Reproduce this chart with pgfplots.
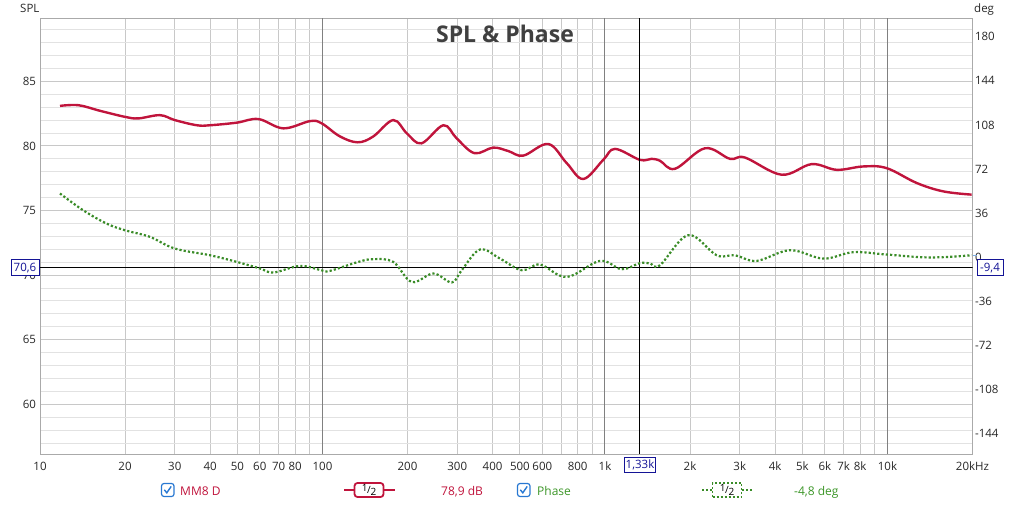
\documentclass[border=0pt]{standalone}
\usepackage{fontspec}
\setmainfont{Open Sans}
\usepackage{pgfplots}
\pgfplotsset{compat=1.18}
\definecolor{spl}{RGB}{192,20,60}
\definecolor{phs}{RGB}{58,140,40}
\definecolor{phstxt}{RGB}{60,150,40}
\definecolor{gridmaj}{RGB}{200,200,200}
\definecolor{gridmin}{RGB}{226,226,226}
\definecolor{griddec}{RGB}{128,128,128}
\definecolor{frame}{RGB}{170,170,170}
\definecolor{navy}{RGB}{20,20,150}
\definecolor{chk}{RGB}{40,120,210}
\definecolor{titlec}{RGB}{64,64,64}
\definecolor{lbl}{RGB}{40,40,40}

\pgfplotstableread{
f v
11.77 83.1
13.7 83.15
16.3 82.72
20.0 82.25
22.3 82.13
26.6 82.38
30 82.0
35.9 81.6
40 81.6
49.7 81.8
59.3 82.08
72.7 81.36
90.3 81.92
99.3 81.75
115 80.75
133 80.28
151 80.72
178 82.0
199 80.97
224 80.2
268 81.6
298 80.6
345 79.44
402 79.87
455 79.6
514 79.25
630 80.15
732 78.67
838 77.44
986 78.92
1085 79.77
1330 78.92
1460 79.0
1566 78.85
1770 78.23
2260 79.82
2770 79.0
3130 79.1
4220 77.77
5390 78.59
6610 78.15
8210 78.41
9930 78.28
12690 77.13
15760 76.48
19860 76.23
}\spltable

\pgfplotstableread{
f v
11.77 52.0
14.2 38.4
17.2 27.5
20 22.0
24.5 16.6
30 7.1
40 1.6
49.7 -3.8
60.1 -9.2
67 -12.5
83.2 -7.1
99 -10.6
106 -11.2
134 -3.8
151 -1.6
178 -3.8
207 -20.2
247 -13.3
287 -20.6
311 -10.6
361 6.3
425 -1.1
507 -10.6
589 -6.0
732 -16.1
960 -3.0
1146 -9.8
1330 -4.8
1443 -5.1
1566 -6.5
1972 18.0
2485 1.6
2885 1.6
3443 -3.0
4520 5.7
5927 -1.1
7570 4.1
9930 2.2
14140 -0.2
19860 1.6
}\phstable

\newcommand{\half}{{\fontsize{10}{10}\selectfont\raisebox{1.5pt}{1}\kern-0.3pt/\kern-0.3pt\raisebox{-1.8pt}{2}}}

\begin{document}
\begin{tikzpicture}[x=1pt,y=1pt]
\path[use as bounding box] (0,0) rectangle (1024,506);
\begin{axis}[
  scale only axis, width=932.5pt, height=435.7pt,
  at={(40pt,52pt)}, anchor=south west,
  xmode=log, log basis x=10, xmin=10, xmax=20000,
  ymin=56.15, ymax=89.88,
  xtick={10,20,30,40,50,60,70,80,90,100,200,300,400,500,600,700,800,900,1000,2000,3000,4000,5000,6000,7000,8000,9000,10000,20000},
  xticklabels={10,20,30,40,50,60,70,80,,100,200,300,400,500,600,,800,,1k,2k,3k,4k,5k,6k,7k,8k,,10k,20kHz},
  ytick={60,65,70,75,80,85},
  yticklabels={60,65,70,75,80,85},
  minor ytick={57,58,...,89},
  grid=both,
  major grid style={draw=gridmaj, line width=1pt},
  minor grid style={draw=gridmin, line width=1pt},
  extra x ticks={100,1000,10000},
  extra x tick labels={,,},
  extra x tick style={grid=major, major grid style={draw=griddec, line width=1pt}},
  major tick length=0pt, minor tick length=0pt,
  tick style={draw=none},
  axis line style={draw=frame, line width=1pt},
  tick label style={font=\fontsize{11.5}{12}\selectfont, text=lbl},
  xticklabel style={anchor=base, yshift=-16.5pt},
  yticklabel style={anchor=east, xshift=-0.5pt},
  clip=true,
]
\addplot[spl, line width=2.4pt, smooth, tension=0.6] table[x=f,y=v] {\spltable};
\draw[black, line width=1pt] (axis cs:1330,56.15) -- (axis cs:1330,89.88);
\draw[black, line width=1pt] (axis cs:10,70.6) -- (axis cs:20000,70.6);
\end{axis}
\begin{axis}[
  scale only axis, width=932.5pt, height=435.7pt,
  at={(40pt,52pt)}, anchor=south west,
  xmode=log, log basis x=10, xmin=10, xmax=20000,
  ymin=-160.6, ymax=195,
  hide x axis,
  axis y line*=right,
  y axis line style={draw=none},
  ytick={-144,-108,-72,-36,0,36,72,108,144,180},
  yticklabels={-144,-108,-72,-36,0,36,72,108,144,180},
  major tick length=0pt, tick style={draw=none},
  tick label style={font=\fontsize{11.5}{12}\selectfont, text=lbl},
  yticklabel style={anchor=west, xshift=-1pt},
]
\addplot[phs, line width=2.2pt, smooth, tension=0.6, dash pattern=on 2.2pt off 2.1pt] table[x=f,y=v] {\phstable};
\end{axis}

% axis unit labels and title
\node[anchor=base west, font=\fontsize{11.5}{12}\selectfont, text=lbl, inner sep=0] at (20,493.7) {SPL};
\node[anchor=base west, font=\fontsize{11.5}{12}\selectfont, text=lbl, inner sep=0] at (974,493.7) {deg};
\node[anchor=base, font=\fontsize{23}{24}\selectfont\bfseries, text=titlec, inner sep=0] at (505,463.3) {SPL \& Phase};

% cursor read-outs
\draw[chk!60, line width=1pt] (972.5,250) -- (977,250);
\node[draw=navy, fill=white, line width=1pt, text=navy, font=\fontsize{11.5}{12}\selectfont, inner sep=0, minimum width=30.6pt, minimum height=15.4pt] at (640,41) {1,33k};
\node[draw=navy, fill=white, line width=1pt, text=navy, font=\fontsize{11.5}{12}\selectfont, inner sep=0, minimum width=28pt, minimum height=16pt] at (25,238) {70,6};
\node[draw=navy, fill=white, line width=1pt, text=navy, font=\fontsize{11.5}{12}\selectfont, inner sep=0, minimum width=26pt, minimum height=16pt] at (990,238) {-9,4};

% legend
\draw[chk, line width=1.2pt, rounded corners=2.5pt] (161.5,9.5) rectangle (174,22.5);
\draw[chk, line width=1.4pt] (164.3,16.2) -- (166.8,13.2) -- (171.2,19.6);
\node[anchor=base west, inner sep=0, text=spl, font=\fontsize{12}{12}\selectfont] at (180,11) {MM8 D};
\draw[spl, line width=2pt] (344,16) -- (395,16);
\node[draw=spl, fill=white, line width=1.8pt, rounded corners=3pt, inner sep=0, minimum width=29pt, minimum height=14pt, text=black] at (369,16) {\half};
\node[anchor=base west, inner sep=0, text=spl, font=\fontsize{12}{12}\selectfont] at (441,11) {78,9 dB};

\draw[chk, line width=1.2pt, rounded corners=2.5pt] (517.5,9.5) rectangle (530,22.5);
\draw[chk, line width=1.4pt] (520.3,16.2) -- (522.8,13.2) -- (527.2,19.6);
\node[anchor=base west, inner sep=0, text=phstxt, font=\fontsize{12}{12}\selectfont] at (537,11) {Phase};
\draw[phs, line width=2pt, dash pattern=on 2pt off 2pt] (702,16) -- (752,16);
\node[draw=phs, fill=white, line width=1.8pt, dash pattern=on 2pt off 2pt, inner sep=0, minimum width=29pt, minimum height=14pt, text=black] at (727,16) {\half};
\node[anchor=base west, inner sep=0, text=phstxt, font=\fontsize{12}{12}\selectfont] at (794,11) {-4,8 deg};
\end{tikzpicture}
\end{document}
